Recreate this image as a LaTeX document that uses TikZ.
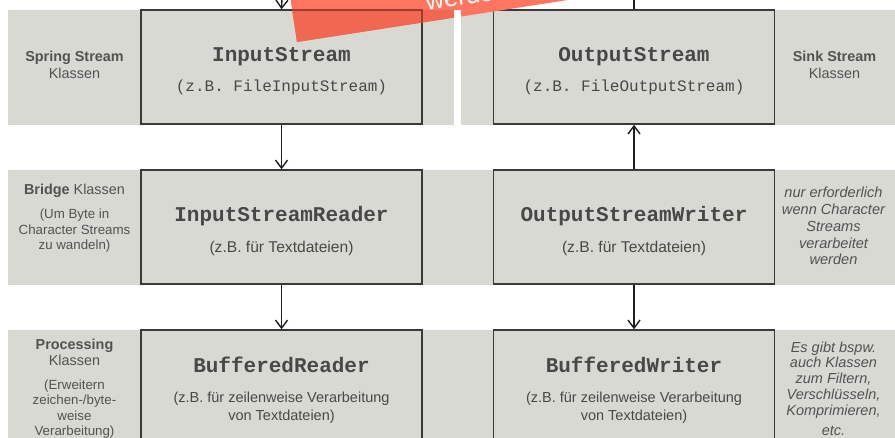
\documentclass[tikz,border=0pt]{standalone}
\usepackage{fontspec}
\setmainfont{Liberation Sans}
\newfontfamily\cour{Liberation Mono}
\usetikzlibrary{arrows.meta}
\definecolor{bandgray}{RGB}{217,217,212}
\definecolor{boxline}{RGB}{58,58,58}
\definecolor{ink}{RGB}{72,72,72}
\definecolor{labelink}{RGB}{82,82,82}
\definecolor{arrowink}{RGB}{30,30,30}
\definecolor{bannerlight}{RGB}{255,117,95}
\definecolor{bannerdark}{RGB}{240,104,82}
\definecolor{bannerline}{RGB}{160,60,45}
\tikzset{
  band/.style={fill=bandgray, draw=none},
  box/.style={draw=boxline, line width=1.5pt, fill=bandgray, minimum width=281pt, minimum height=114pt, inner sep=0pt},
  boxlow/.style={box, minimum height=130pt},
  title/.style={font=\cour\bfseries\fontsize{21}{24}\selectfont, text=ink, anchor=base, inner sep=0pt},
  subm/.style={font=\cour\fontsize{16}{18}\selectfont, text=ink, anchor=base, inner sep=0pt},
  subs/.style={font=\fontsize{15.6}{17.5}\selectfont, text=ink, anchor=base, inner sep=0pt, align=center},
  subt/.style={font=\fontsize{14.5}{17.5}\selectfont, text=ink, anchor=base, inner sep=0pt, align=center},
  head/.style={font=\fontsize{14.4}{17.5}\selectfont, text=labelink, anchor=base, inner sep=0pt, align=center},
  headb/.style={head, font=\fontsize{14.4}{15.7}\selectfont},
  note/.style={font=\fontsize{13.3}{15.2}\selectfont, text=labelink, anchor=base, inner sep=0pt, align=center},
  inote/.style={font=\itshape\fontsize{14.6}{16.8}\selectfont, text=labelink, anchor=base, inner sep=0pt, align=center},
  inoteb/.style={inote, font=\itshape\fontsize{14.5}{15.9}\selectfont},
  conn/.style={draw=arrowink, line width=1.4pt, -{Straight Barb[length=8pt,width=12pt]}},
  plain/.style={draw=arrowink, line width=1.4pt},
  bannertext/.style={font=\fontsize{25}{28}\selectfont, text=white, anchor=base west, inner sep=0pt, rotate=8.8}
}
\begin{document}
\begin{tikzpicture}[x=1pt,y=-1pt]
\useasboundingbox (0,0) rectangle (895,438);
\clip (0,0) rectangle (895,438);
% bands
\fill[band] (8,10) rectangle (454,125);
\fill[band] (461,10) rectangle (895,125);
\fill[band] (8,170) rectangle (895,285);
\fill[band] (8,330) rectangle (895,445);
% boxes
\node[box] (is) at (281.5,67) {};
\node[box] (os) at (634,67) {};
\node[box] (isr) at (281.5,227) {};
\node[box] (osw) at (634,227) {};
\node[boxlow] (br) at (281.5,395) {};
\node[boxlow] (bw) at (634,395) {};
% box texts
\node[title] (ist) at (281.5,62) {InputStream};
\node[subm] (iss) at (281.5,91.5) {(z.B. FileInputStream)};
\node[title] (ost) at (634,62) {OutputStream};
\node[subm] (oss) at (634,91.5) {(z.B. FileOutputStream)};
\node[title] (isrt) at (281.5,221.7) {InputStreamReader};
\node[subs] (isrs) at (281.5,252.5) {(z.B. für Textdateien)};
\node[title] (oswt) at (634,221.7) {OutputStreamWriter};
\node[subs] (osws) at (634,252.5) {(z.B. für Textdateien)};
\node[title] (brt) at (281.5,372.7) {BufferedReader};
\node[subt] (brs) at (281.5,420.2) {(z.B. für zeilenweise Verarbeitung\\von Textdateien)};
\node[title] (bwt) at (634,372.7) {BufferedWriter};
\node[subt] (bws) at (634,420.2) {(z.B. für zeilenweise Verarbeitung\\von Textdateien)};
% side labels
\node[head] (l1) at (74.5,78.6) {\textbf{Spring Stream}\\Klassen};
\node[head] (r1) at (834.5,78.6) {\textbf{Sink Stream}\\Klassen};
\node[head] (l2) at (74.5,194.3) {\textbf{Bridge} Klassen};
\node[note] (l2n) at (74.5,249.4) {(Um Byte in\\Character Streams\\zu wandeln)};
\node[inote] (r2) at (833.5,264.9) {nur erforderlich\\wenn Character\\Streams\\verarbeitet\\werden};
\node[headb] (l3) at (74.5,365.3) {\textbf{Processing}\\Klassen};
\node[note] (l3n) at (74.5,435.3) {(Erweitern\\zeichen-/byte-\\weise\\Verarbeitung)};
\node[inoteb] (r3) at (833.5,435.5) {Es gibt bspw.\\auch Klassen\\zum Filtern,\\Verschlüsseln,\\Komprimieren,\\[4pt]etc.};
% connectors
\coordinate (topin) at (282,-2);
\coordinate (topout) at (634,-2);
\draw[conn] (topin) -- (is.north);
\draw[plain] (topout) -- (os.north);
\draw[conn] (is.south) -- (isr.north);
\draw[conn] (isr.south) -- (br.north);
\draw[conn] (osw.north) -- (os.south);
\draw[conn] (osw.south) -- (bw.north);
% banner
\fill[bannerlight] (297,42) -- (890,-50) -- (875,-149) -- (282,-57) -- cycle;
\begin{scope}
  \clip (297,42) -- (890,-50) -- (875,-149) -- (282,-57) -- cycle;
  \fill[bannerdark] (8,10) rectangle (454,125);
  \draw[bannerline, line width=1.5pt] (141,10) -- (422,10) -- (422,124);
\end{scope}
\fill[white] (454,10) rectangle (461,125);
\node[bannertext] (bt) at (427,10.5) {werden};
\end{tikzpicture}
\end{document}
